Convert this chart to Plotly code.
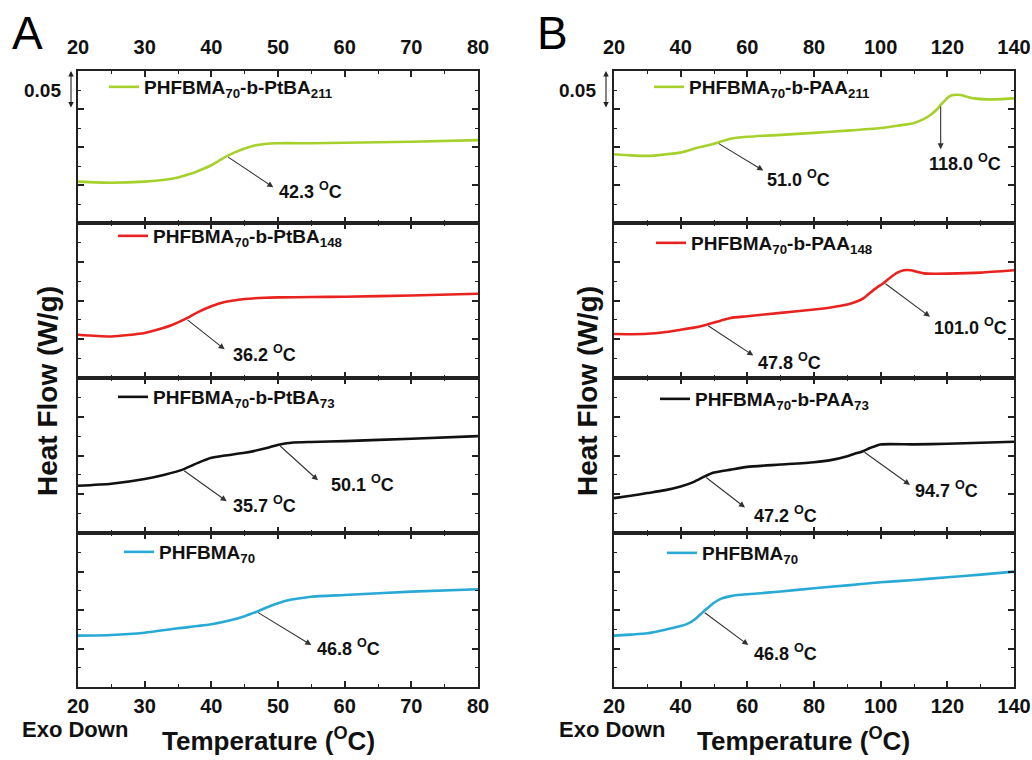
import numpy as np
import plotly.graph_objects as go

FW, FH = 1032, 760
OFF = 0


def px(x):
    return (x - OFF) / FW


def py(y):
    return 1 - (y - OFF) / FH


# ---------------- data ----------------
# Panel A : PHFBMA70-b-PtBA series, temperature in degC, heat flow (W/g, offset per trace)
A_names = ["PHFBMA<sub>70</sub>-b-PtBA<sub>211</sub>",
           "PHFBMA<sub>70</sub>-b-PtBA<sub>148</sub>",
           "PHFBMA<sub>70</sub>-b-PtBA<sub>73</sub>",
           "PHFBMA<sub>70</sub>"]
A1_t = [20, 25, 30, 33, 35, 37, 39, 40, 41, 42.3, 43.5, 45, 46.5, 48, 50, 55, 60, 70, 80]
A1_q = [0.0545, 0.053, 0.0545, 0.057, 0.060, 0.065, 0.072, 0.076, 0.081, 0.088, 0.093,
        0.098, 0.102, 0.104, 0.105, 0.105, 0.1055, 0.107, 0.109]
A2_t = [20, 25, 30, 32, 34, 36.2, 38, 40, 42, 45, 48, 50, 55, 60, 70, 80]
A2_q = [0.0558, 0.0536, 0.058, 0.0625, 0.068, 0.0765, 0.085, 0.0926, 0.098, 0.102, 0.1035,
        0.104, 0.1045, 0.1048, 0.1065, 0.1087]
A3_t = [20, 25, 30, 33, 35.7, 38, 40, 42, 45, 48, 50.1, 52, 55, 60, 70, 80]
A3_q = [0.061, 0.0636, 0.0697, 0.0753, 0.0818, 0.0905, 0.097, 0.100, 0.1035, 0.109, 0.114,
        0.1165, 0.1175, 0.1186, 0.1217, 0.125]
A4_t = [20, 25, 30, 35, 40, 43, 45, 46.8, 48.5, 50, 52, 53, 55, 60, 70, 80]
A4_q = [0.0667, 0.0675, 0.0705, 0.0762, 0.0814, 0.087, 0.092, 0.0978, 0.104, 0.1087, 0.1135,
        0.115, 0.1173, 0.1195, 0.1238, 0.127]

# Panel B : PHFBMA70-b-PAA series
B_names = ["PHFBMA<sub>70</sub>-b-PAA<sub>211</sub>",
           "PHFBMA<sub>70</sub>-b-PAA<sub>148</sub>",
           "PHFBMA<sub>70</sub>-b-PAA<sub>73</sub>",
           "PHFBMA<sub>70</sub>"]
B1_t = [20, 25, 30, 35, 40, 45, 48, 51, 55, 60, 70, 80, 90, 100, 105, 110, 113, 115, 117,
        118, 119, 120, 121, 122, 124, 126, 128, 132, 136, 140]
B1_q = [0.0905, 0.089, 0.0883, 0.090, 0.0926, 0.099, 0.102, 0.1056, 0.1108, 0.1134, 0.116,
        0.1186, 0.1215, 0.125, 0.128, 0.1316, 0.137, 0.1425, 0.150, 0.1554, 0.160, 0.1645,
        0.1675, 0.1685, 0.1684, 0.166, 0.164, 0.1627, 0.163, 0.164]
B2_t = [20, 25, 30, 35, 40, 44, 47.8, 52, 55, 60, 70, 80, 85, 90, 93, 95, 98, 101, 103, 105,
        107, 109, 111, 113, 116, 120, 130, 140]
B2_q = [0.0567, 0.0565, 0.057, 0.059, 0.0623, 0.065, 0.0688, 0.074, 0.0775, 0.0797, 0.084,
        0.0883, 0.091, 0.0948, 0.099, 0.1035, 0.114, 0.123, 0.130, 0.136, 0.139, 0.139, 0.137,
        0.135, 0.1345, 0.1347, 0.136, 0.139]
B3_t = [20, 25, 30, 35, 40, 44, 47.2, 50, 55, 60, 70, 80, 85, 90, 92, 94.7, 97, 100, 110,
        120, 130, 140]
B3_q = [0.045, 0.048, 0.0515, 0.055, 0.0601, 0.066, 0.0731, 0.078, 0.0818, 0.0853, 0.0883,
        0.0913, 0.094, 0.0991, 0.102, 0.1056, 0.110, 0.1143, 0.1143, 0.1152, 0.1165, 0.1178]
B4_t = [20, 25, 30, 35, 40, 42, 44, 46.8, 48.5, 50, 52, 55, 57, 60, 70, 80, 90, 100, 110,
        120, 130, 140]
B4_q = [0.0667, 0.068, 0.0697, 0.074, 0.0792, 0.082, 0.087, 0.0978, 0.104, 0.1095, 0.1145,
        0.118, 0.1195, 0.1204, 0.124, 0.1282, 0.132, 0.136, 0.139, 0.1425, 0.146, 0.1498]

# Glass transition temperatures (subplot index 1..8, Tg)
tg_sub = [1, 2, 3, 3, 4, 5, 5, 6, 6, 7, 7, 8]
tg_val = [42.3, 36.2, 35.7, 50.1, 46.8, 51.0, 118.0, 47.8, 101.0, 47.2, 94.7, 46.8]

colors = ["#A6D02C", "#E8231F", "#111111", "#29AAD6"]

# ---------------- layout helpers ----------------
FONT = "Liberation Sans"
xdomA = [px(78), px(478)]
xdomB = [px(614), px(1014)]
edges = [71, 223, 378, 533, 687]
ydoms = [[py(edges[k + 1]), py(edges[k])] for k in range(4)]

fig = go.Figure()

series = [(A1_t, A1_q), (A2_t, A2_q), (A3_t, A3_q), (A4_t, A4_q),
          (B1_t, B1_q), (B2_t, B2_q), (B3_t, B3_q), (B4_t, B4_q)]
names = A_names + B_names
# legend placement: (text start px, line y px) in screen pixels
leg_pos = [(147, 87), (156, 236), (156, 397), (162, 552),
           (692, 87), (694, 243), (698, 399), (705, 553)]

for i, (t, q) in enumerate(series):
    n = i + 1
    sfx = "" if n == 1 else str(n)
    fig.add_trace(go.Scatter(
        x=t, y=q, mode="lines", name=names[i],
        line=dict(color=colors[i % 4], width=2.6, shape="spline", smoothing=0.6),
        xaxis="x" + sfx, yaxis="y" + sfx,
        legend="legend" + sfx, showlegend=True, hoverinfo="skip"))

lay = dict(width=FW, height=FH, margin=dict(l=0, r=0, t=0, b=0, autoexpand=False),
           paper_bgcolor="white", plot_bgcolor="white", showlegend=True,
           template="none")

axcol = "#222222"
for i in range(8):
    n = i + 1
    sfx = "" if n == 1 else str(n)
    sub = i % 4
    isA = i < 4
    xa = dict(domain=xdomA if isA else xdomB, anchor="y" + sfx,
              range=[20, 80] if isA else [20, 140],
              tick0=20, dtick=10 if isA else 20,
              ticks="inside", ticklen=6, tickwidth=1.5, tickcolor=axcol,
              minor=dict(dtick=5 if isA else 10, ticks="inside", ticklen=3.5,
                         tickwidth=1.3, tickcolor=axcol),
              showline=True, linecolor=axcol, linewidth=1.6, mirror="ticks",
              showgrid=False, zeroline=False, automargin=False,
              showticklabels=(sub in (0, 3)), side="top" if sub == 0 else "bottom",
              ticklabelstandoff=7 if sub == 0 else 0,
              tickfont=dict(family=FONT, size=20, color="#111", weight="bold"),
              fixedrange=True)
    ya = dict(domain=ydoms[sub], anchor="x" + sfx, range=[0, 0.2], tick0=0, dtick=0.05,
              ticks="inside", ticklen=6, tickwidth=1.5, tickcolor=axcol,
              minor=dict(dtick=0.025, ticks="inside", ticklen=3.5, tickwidth=1.3,
                         tickcolor=axcol),
              showline=True, linecolor=axcol, linewidth=1.6, mirror="ticks",
              showgrid=False, zeroline=False, showticklabels=False, automargin=False,
              fixedrange=True)
    lay["xaxis" + sfx] = xa
    lay["yaxis" + sfx] = ya
    tx, ly = leg_pos[i]
    lay["legend" + sfx] = dict(x=px(tx - 43), y=py(ly), xanchor="left",
                               yanchor="middle", bgcolor="rgba(0,0,0,0)", borderwidth=0,
                               itemwidth=30, font=dict(family=FONT, size=19,
                                                       color="#111", weight="bold"))

fig.update_layout(**lay)

# ---------------- annotations ----------------
ann = []
# Tg arrow heads / label positions (axis coords of each subplot)
tg_head = [(49.3, 0.047), (42.0, 0.037), (42.3, 0.041), (56.0, 0.068), (55.0, 0.0545),
           (64.8, 0.069), (118.0, 0.097), (61.8, 0.029), (114.8, 0.079),
           (59.3, 0.033), (108.8, 0.062), (60.3, 0.0545)]
tg_label = [(49.9, 0.043), (43.0, 0.031), (42.9, 0.037), (57.6, 0.064), (55.6, 0.051),
            (65.3, 0.058), (125.3, 0.080), (62.6, 0.021), (115.5, 0.066),
            (61.5, 0.024), (109.6, 0.0555), (61.3, 0.045)]
for k in range(len(tg_val)):
    n = tg_sub[k]
    sfx = "" if n == 1 else str(n)
    t, q = series[n - 1]
    tail_y = float(np.interp(tg_val[k], t, q))
    hx, hy = tg_head[k]
    ann.append(dict(xref="x" + sfx, yref="y" + sfx, x=hx, y=hy,
                    axref="x" + sfx, ayref="y" + sfx, ax=tg_val[k], ay=tail_y,
                    text="", showarrow=True, arrowhead=2, arrowsize=1.1,
                    arrowwidth=1.1, arrowcolor="#333"))
    lx, lyv = tg_label[k]
    centered = (tg_val[k] == 118.0)
    ann.append(dict(xref="x" + sfx, yref="y" + sfx, x=lx, y=lyv,
                    text=f"{tg_val[k]:.1f} <sup>O</sup>C", showarrow=False,
                    xanchor="center" if centered else "left", yanchor="middle",
                    font=dict(family=FONT, size=18, color="#111", weight="bold")))

bold = dict(family=FONT, color="#111", weight="bold")
for scale_px, num_px, yax, txpx in [(71, 63, "y", 268), (606, 598, "y5", 803)]:
    ann.append(dict(xref="paper", yref=yax, x=px(scale_px), y=0.2, axref="pixel",
                    ayref=yax, ax=0, ay=0.15, text="", showarrow=True,
                    arrowside="end+start", arrowhead=2, arrowsize=1.0,
                    arrowwidth=1.1, arrowcolor="#222"))
    ann.append(dict(xref="paper", yref=yax, x=px(num_px), y=0.174, text="0.05",
                    showarrow=False, xanchor="right", yanchor="middle",
                    font=dict(size=19, **bold)))
    ann.append(dict(xref="paper", yref="paper", x=px(txpx), y=py(758),
                    text="Temperature (<sup>O</sup>C)", showarrow=False,
                    xanchor="center", yanchor="bottom", font=dict(size=26, **bold)))

for xp in (75, 612):
    ann.append(dict(xref="paper", yref="paper", x=px(xp), y=py(729), text="Exo Down",
                    showarrow=False, xanchor="center", yanchor="middle",
                    font=dict(size=22, **bold)))
for xp in (47, 587):
    ann.append(dict(xref="paper", yref="paper", x=px(xp), y=py(391),
                    text="Heat Flow (W/g)", textangle=-90, showarrow=False,
                    xanchor="center", yanchor="middle", font=dict(size=28, **bold)))
for xp, lab in ((27, "A"), (552, "B")):
    ann.append(dict(xref="paper", yref="paper", x=px(xp), y=py(33), text=lab,
                    showarrow=False, xanchor="center", yanchor="middle",
                    font=dict(family=FONT, size=46, color="#000")))

fig.update_layout(annotations=ann)
# remove the default 8px page margin so the 1032x760 figure fills the window exactly
fig.write_html("out.html", config={"displayModeBar": False},
               post_script="document.body.style.margin='0px';"
                           "document.body.style.overflow='hidden';")
